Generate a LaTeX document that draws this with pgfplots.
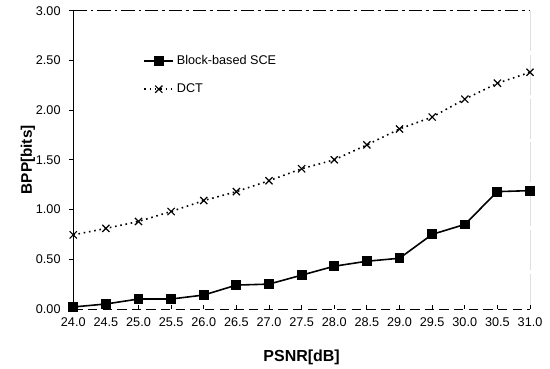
\documentclass[border=0pt]{standalone}
\usepackage{fontspec}
\setmainfont{Liberation Sans}
\usepackage{pgfplots}
\pgfplotsset{compat=1.18}
\begin{document}
\begin{tikzpicture}
\begin{axis}[
  scale only axis,
  width=343pt, height=224pt,
  xmin=24, xmax=31, ymin=0, ymax=3,
  axis lines=left,
  axis line style={-, line width=0.6pt},
  x axis line style={dash pattern=on 7pt off 4pt},
  xtick={24,24.5,...,31.01},
  ytick={0,0.5,...,3.01},
  /pgf/number format/assume math mode=true,
  xticklabel style={font=\fontsize{9.5}{11}\selectfont, /pgf/number format/.cd, fixed, fixed zerofill, precision=1},
  yticklabel style={font=\fontsize{9.5}{11}\selectfont, xshift=-3pt, /pgf/number format/.cd, fixed, fixed zerofill, precision=2},
  tick align=outside,
  major tick length=3pt,
  tick style={line width=0.6pt, black},
  xtick style={yshift=3pt},
  xlabel={\bfseries PSNR[dB]},
  ylabel={\bfseries BPP[bits]},
  xlabel style={font=\fontsize{12}{14}\selectfont, at={(axis description cs:0.5,0)}, anchor=center, yshift=-36pt},
  ylabel style={font=\fontsize{11.5}{14}\selectfont, at={(axis description cs:0,0.5)}, anchor=center, yshift=34pt},
  legend style={draw=none, fill=none, inner sep=0pt, at={(0.153,0.86)}, anchor=north west, font=\fontsize{9.5}{11}\selectfont, row sep=9pt, nodes={inner sep=2pt}},
  legend cell align=left,
  legend image code/.code={\draw[mark repeat=2,mark phase=2,#1] plot coordinates {(0pt,0pt)(11pt,0pt)(22pt,0pt)};},
]
\draw[line width=0.6pt, dash pattern=on 10pt off 3pt on 2pt off 3pt] (rel axis cs:0,1) -- (rel axis cs:1,1);
\draw[line width=0.6pt, dash pattern=on 30pt off 3pt] (rel axis cs:1,1) -- (rel axis cs:1,0);
\addplot[black, line width=1.2pt, mark=square*, mark size=3.1pt] coordinates {
(24.0,0.02) (24.5,0.05) (25.0,0.10) (25.5,0.10) (26.0,0.14) (26.5,0.24) (27.0,0.25)
(27.5,0.34) (28.0,0.43) (28.5,0.48) (29.0,0.51) (29.5,0.75) (30.0,0.85) (30.5,1.18) (31.0,1.19)
};
\addlegendentry{Block-based SCE}
\addplot[black, line width=1.2pt, dash pattern=on 1.2pt off 2.8pt, mark=x, mark size=3.8pt, mark options={solid, line width=0.9pt}] coordinates {
(24.0,0.745) (24.5,0.81) (25.0,0.88) (25.5,0.98) (26.0,1.09) (26.5,1.18) (27.0,1.29)
(27.5,1.41) (28.0,1.50) (28.5,1.65) (29.0,1.81) (29.5,1.93) (30.0,2.11) (30.5,2.27) (31.0,2.38)
};
\addlegendentry{DCT}
\end{axis}
\path (current axis.south west) ++(-55pt,-44pt);
\path (current axis.north east) ++(15pt,8pt);
\end{tikzpicture}
\end{document}
